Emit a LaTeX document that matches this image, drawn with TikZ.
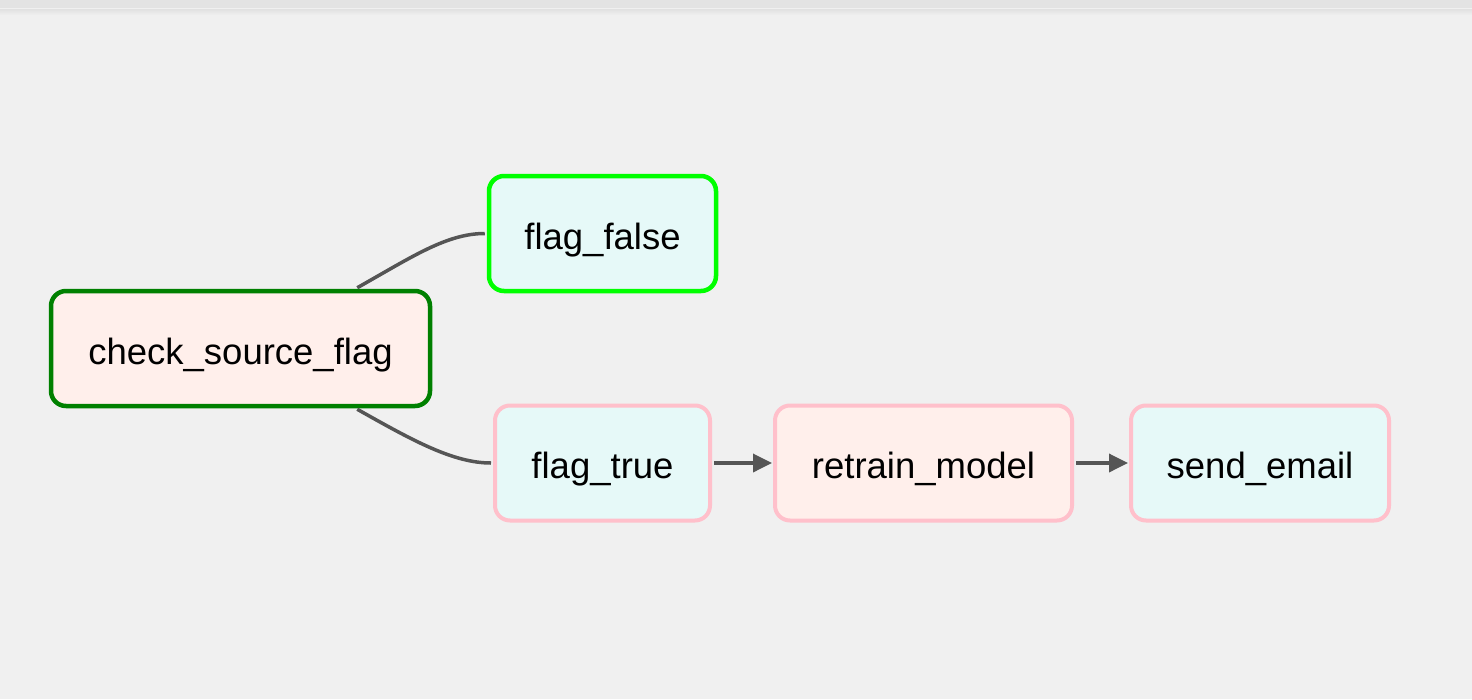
\documentclass[tikz,border=0pt]{standalone}
\usepackage{fontspec}
\setmainfont{Liberation Sans}
\usetikzlibrary{arrows.meta,calc}
\definecolor{bgc}{HTML}{F0F0F0}
\definecolor{bandc}{HTML}{E3E3E3}
\definecolor{peach}{HTML}{FFEFEB}
\definecolor{aqua}{HTML}{E6F9F8}
\definecolor{darkgreen}{HTML}{008000}
\definecolor{limec}{HTML}{00FF00}
\definecolor{pinkc}{HTML}{FFC0CB}
\definecolor{edgec}{HTML}{555555}
\newcommand{\tasktext}[1]{\raisebox{-6pt}[27pt][8pt]{#1}}
\tikzset{
  task/.style={draw, rounded corners=15pt, minimum height=115pt, inner sep=0pt,
    font=\fontsize{36.5}{44}\selectfont, text=black},
  ok/.style={task, line width=4.5pt, draw=darkgreen, fill=peach},
  run/.style={task, line width=4.5pt, draw=limec, fill=aqua},
  wait/.style={task, line width=4pt, draw=pinkc},
  link/.style={draw=edgec, line width=3.5pt},
  arr/.style={link, -{Triangle[length=19pt,width=18pt]}}
}
\begin{document}
\begin{tikzpicture}[x=1pt,y=-1pt]
\fill[bgc] (0,0) rectangle (1472,699);
\fill[bandc] (0,0) rectangle (1472,8);
\fill[top color=bandc!90!black!10!bandc, bottom color=bgc] (0,9) rectangle (1472,15);
\useasboundingbox (0,0) rectangle (1472,699);

\node[ok, minimum width=379pt] (check) at (240.5,348.5) {\tasktext{check\_source\_flag}};
\node[run, minimum width=227pt] (ffalse) at (602.5,233.5) {\tasktext{flag\_false}};
\node[wait, fill=aqua, minimum width=215pt] (ftrue) at (602.5,463) {\tasktext{flag\_true}};
\node[wait, fill=peach, minimum width=297pt] (retrain) at (923.5,463) {\tasktext{retrain\_model}};
\node[wait, fill=aqua, minimum width=258pt] (email) at (1260,463) {\tasktext{send\_email}};

\draw[link] ($(check.north east)+(-75,-1)$) .. controls ($(check.north east)+(-20,-32)$) and ($(ffalse.west)+(-40,0)$) .. ($(ffalse.west)+(-2,0)$);
\draw[link] ($(check.south east)+(-75,1)$) .. controls ($(check.south east)+(-20,32)$) and ($(ftrue.west)+(-40,0)$) .. ($(ftrue.west)+(-2,0)$);
\draw[arr] ($(ftrue.east)+(2,0)$) -- ($(retrain.west)+(-1,0)$);
\draw[arr] ($(retrain.east)+(2,0)$) -- ($(email.west)+(-1,0)$);
\end{tikzpicture}
\end{document}
